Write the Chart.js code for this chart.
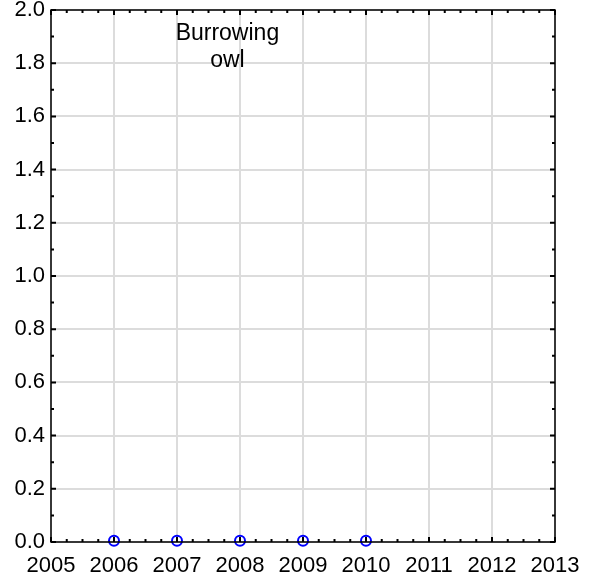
<!DOCTYPE html>
<html>
<head>
<meta charset="utf-8">
<script src="https://cdn.jsdelivr.net/npm/chart.js@4"></script>
<style>
  html, body { margin: 0; padding: 0; background: #fff; }
  #wrap { width: 595px; height: 583px; }
</style>
</head>
<body>
<div id="wrap"><canvas id="owlChart" width="595" height="583"></canvas></div>
<script>
var years = [2006, 2007, 2008, 2009, 2010];
var owlValues = [0.005, 0.005, 0.005, 0.005, 0.005];
var yearTicks = [2005, 2006, 2007, 2008, 2009, 2010, 2011, 2012, 2013];
var valueTicks = [0, 0.2, 0.4, 0.6, 0.8, 1.0, 1.2, 1.4, 1.6, 1.8, 2.0];
var titleLines = ['Burrowing', 'owl'];

var FONT = "'Liberation Sans', Arial, sans-serif";

// frame + inward major/minor ticks on all four sides, plus the label
var framePlugin = {
  id: 'frame',
  afterDraw: function(chart) {
    var ctx = chart.ctx, a = chart.chartArea;
    var xs = chart.scales.x, ys = chart.scales.y;
    ctx.save();
    ctx.strokeStyle = '#000';
    ctx.lineWidth = 1.5;
    ctx.strokeRect(a.left, a.top, a.right - a.left, a.bottom - a.top);

    ctx.lineWidth = 2;
    ctx.beginPath();
    for (var i = 0; i < yearTicks.length; i++) {
      for (var q = 0; q < 4; q++) {
        if (i === yearTicks.length - 1 && q > 0) break;
        var px = xs.getPixelForValue(yearTicks[i] + q * 0.25);
        var len = q === 0 ? 5 : 3;
        ctx.moveTo(px, a.bottom); ctx.lineTo(px, a.bottom - len);
        ctx.moveTo(px, a.top); ctx.lineTo(px, a.top + len);
      }
    }
    for (var j = 0; j < valueTicks.length; j++) {
      for (var h = 0; h < 2; h++) {
        if (j === valueTicks.length - 1 && h > 0) break;
        var py = ys.getPixelForValue(valueTicks[j] + h * 0.1);
        var l2 = h === 0 ? 5 : 3;
        ctx.moveTo(a.left, py); ctx.lineTo(a.left + l2, py);
        ctx.moveTo(a.right, py); ctx.lineTo(a.right - l2, py);
      }
    }
    ctx.stroke();

    ctx.fillStyle = '#000';
    ctx.font = '23px ' + FONT;
    ctx.textAlign = 'center';
    ctx.textBaseline = 'alphabetic';
    var tx = xs.getPixelForValue(2007.8);
    ctx.fillText(titleLines[0], tx, 40);
    ctx.fillText(titleLines[1], tx, 67);
    ctx.restore();
  }
};

var ctx = document.getElementById('owlChart').getContext('2d');
var owlChart = new Chart(ctx, {
  type: 'scatter',
  data: {
    datasets: [{
      label: 'Burrowing owl',
      data: years.map(function(y, i) { return { x: y, y: owlValues[i] }; }),
      borderColor: '#0000ff',
      backgroundColor: 'rgba(0,0,0,0)',
      borderWidth: 2,
      pointRadius: 5,
      pointHoverRadius: 5,
      clip: false
    }]
  },
  options: {
    responsive: false,
    animation: false,
    events: [],
    layout: { padding: { top: 10, right: 40, left: 0, bottom: 0 } },
    plugins: { legend: { display: false }, tooltip: { enabled: false } },
    scales: {
      x: {
        type: 'linear',
        min: 2005, max: 2013,
        afterBuildTicks: function(s) { s.ticks = yearTicks.map(function(v) { return { value: v }; }); },
        afterFit: function(s) { s.height = 41; s.paddingLeft = 0; s.paddingRight = 0; },
        ticks: {
          color: '#000', padding: 11, maxRotation: 0, autoSkip: false,
          font: { family: FONT, size: 22 },
          callback: function(v) { return String(v); }
        },
        grid: { color: '#dcdcdc', lineWidth: 2, drawTicks: false },
        border: { display: false }
      },
      y: {
        min: 0, max: 2,
        afterBuildTicks: function(s) { s.ticks = valueTicks.map(function(v) { return { value: v }; }); },
        afterFit: function(s) { s.width = 51; s.paddingTop = 0; s.paddingBottom = 0; },
        ticks: {
          color: '#000', padding: 6,
          font: { family: FONT, size: 22 },
          callback: function(v) { return v.toFixed(1); }
        },
        grid: { color: '#dcdcdc', lineWidth: 2, drawTicks: false },
        border: { display: false }
      }
    }
  },
  plugins: [framePlugin]
});
</script>
</body>
</html>
